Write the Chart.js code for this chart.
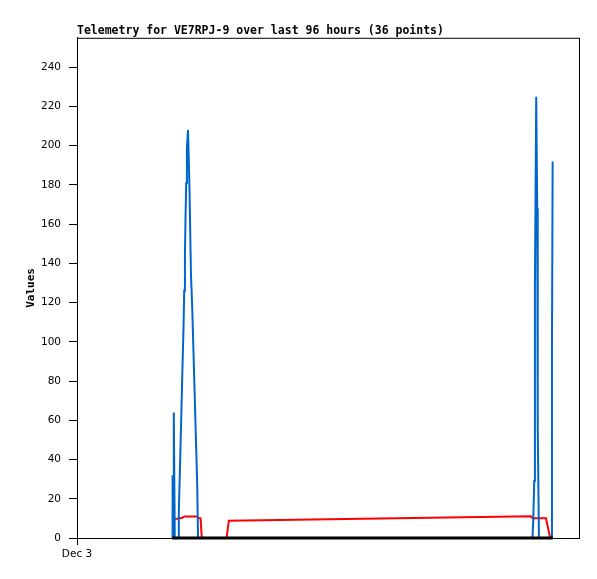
<!DOCTYPE html>
<html>
<head>
<meta charset="utf-8">
<script src="https://cdn.jsdelivr.net/npm/chart.js@4/dist/chart.umd.min.js"></script>
<style>
body { margin: 0; background: #fff; }
#wrap { width: 597px; height: 579px; position: relative; }
</style>
</head>
<body>
<div id="wrap"><canvas id="myChart"></canvas></div>
<script>
// hours since the left edge of the 96 hour window
const blueHours = [18.20, 18.28, 18.36, 18.51, 18.70, 19.32, 19.47, 19.74, 19.99, 20.18, 20.37, 20.50, 20.64,
    20.75, 20.89, 21.02, 21.23, 21.52, 21.79, 22.04, 22.23, 22.42, 22.61, 22.80, 22.99, 23.15,
    87.09, 87.24, 87.44, 87.57, 87.82, 88.01, 88.11, 88.34, 90.69, 90.83, 90.96];
const blueValues = [0, 32, 0, 64, 0, 0, 13, 41, 67, 88, 107, 126, 144,
    163, 181, 199, 208, 177, 135, 117, 99, 81, 63, 45, 27, 0,
    0, 8, 29, 128, 225, 168, 56, 0, 0, 97, 192];

const redHours = [18.20, 19.16, 20.12, 20.50, 22.99, 23.24, 23.63, 23.86, 28.61, 29.03, 86.80, 87.13, 89.68, 90.50];
const redValues = [9.7, 9.8, 10.3, 11.0, 11.0, 10.2, 10.0, 0, 0, 8.8, 11.1, 10.1, 10.1, 0];

const blackHours = [18.20, 91.02];
const blackValues = [0, 0];

const tickHours = [0];
const tickLabels = ['Dec 3'];

const titleText = 'Telemetry for VE7RPJ-9 over last 96 hours (36 points)';

function toPoints(xs, ys) {
    return xs.map((x, i) => ({ x: x, y: ys[i] }));
}

const frame = {
    id: 'frame',
    beforeDatasetsDraw(chart) {
        const a = chart.chartArea;
        const c = chart.ctx;
        c.save();
        c.strokeStyle = '#000';
        c.lineWidth = 1;
        c.strokeRect(a.left + 0.5, a.top + 0.5, a.right - a.left, a.bottom - a.top);
        c.restore();
    }
};

const ctx = document.getElementById('myChart').getContext('2d');
const chart = new Chart(ctx, {
    type: 'line',
    data: {
        datasets: [{
            label: 'black',
            data: toPoints(blackHours, blackValues),
            borderColor: '#000',
            borderWidth: 3,
            clip: 4
        }, {
            label: 'blue',
            data: toPoints(blueHours, blueValues),
            borderColor: '#0066cc',
            borderWidth: 2,
            clip: 4
        }, {
            label: 'red',
            data: toPoints(redHours, redValues),
            borderColor: '#ff0000',
            borderWidth: 2,
            clip: 4
        }]
    },
    options: {
        responsive: true,
        maintainAspectRatio: false,
        animation: false,
        parsing: false,
        elements: { point: { radius: 0 }, line: { tension: 0, fill: false } },
        layout: { padding: { left: 0, right: 18, top: 0, bottom: 0 } },
        plugins: {
            legend: { display: false },
            tooltip: { enabled: false },
            title: {
                display: true,
                text: titleText,
                align: 'start',
                fullSize: false,
                color: '#000',
                font: { family: 'DejaVu Sans Mono', size: 11.5, weight: 'bold' },
                padding: { top: 24, bottom: 0 }
            }
        },
        scales: {
            x: {
                type: 'linear',
                min: 0,
                max: 96,
                afterFit(scale) { scale.height = 41; },
                afterBuildTicks(scale) { scale.ticks = tickHours.map(v => ({ value: v })); },
                grid: { drawOnChartArea: false, drawTicks: true, tickLength: 7, color: '#000' },
                border: { color: '#000', width: 1 },
                ticks: {
                    color: '#000',
                    padding: 3,
                    maxRotation: 0,
                    font: { family: 'DejaVu Sans', size: 10.5 },
                    callback: (v, i) => tickLabels[i]
                }
            },
            y: {
                min: 0,
                max: 255,
                afterFit(scale) { scale.width = 77; },
                afterBuildTicks(scale) {
                    const t = [];
                    for (let v = 0; v <= 240; v += 20) t.push({ value: v });
                    scale.ticks = t;
                },
                grid: { drawOnChartArea: false, drawTicks: true, tickLength: 8, color: '#000' },
                border: { color: '#000', width: 1 },
                ticks: {
                    color: '#000',
                    padding: 8,
                    font: { family: 'DejaVu Sans', size: 10.5 }
                },
                title: {
                    display: true,
                    text: 'Values',
                    color: '#000',
                    font: { family: 'DejaVu Sans Mono', size: 11, weight: 'bold' },
                    padding: { top: 25, bottom: 0 }
                }
            }
        }
    },
    plugins: [frame]
});
</script>
</body>
</html>
